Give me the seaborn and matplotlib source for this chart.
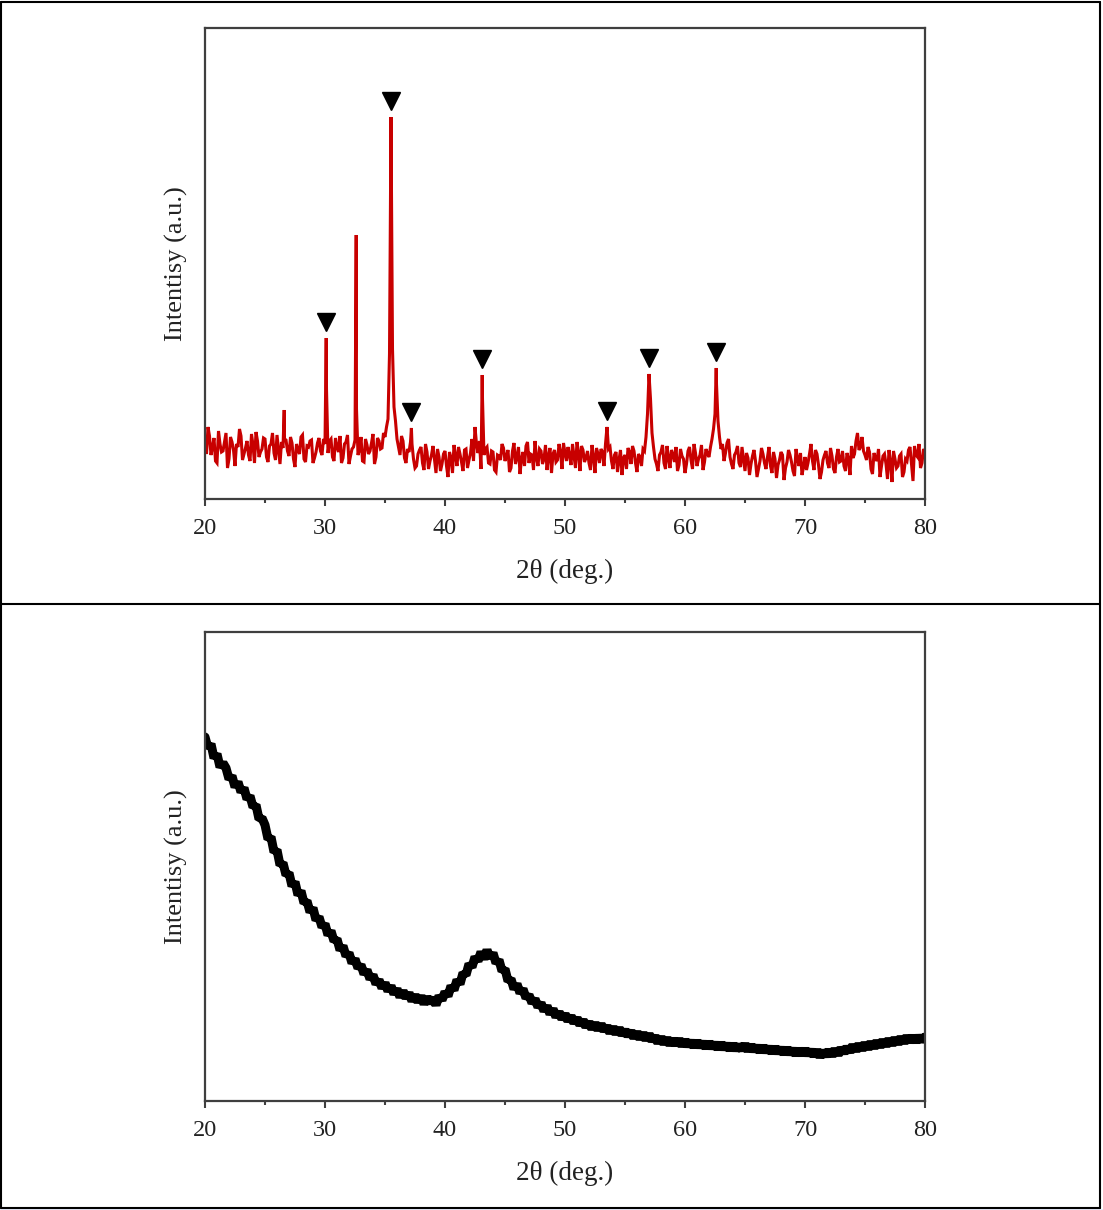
import numpy as np
import pandas as pd
import matplotlib
matplotlib.use("Agg")
import matplotlib.pyplot as plt
import matplotlib.transforms as mtransforms
from matplotlib.lines import Line2D
from matplotlib.patches import Rectangle
import seaborn as sns

# ---------------- data ----------------
# top pattern: background trace at 20.00, 20.25, ... 80.00
two_theta_top = np.arange(20, 80.001, 0.25)
background_top = [
    58, 72, 44, 61, 36, 55, 48, 66, 40, 57, 33, 52, 63, 45, 58, 38, 54, 67, 42, 50,   # 20.00-24.75
    60, 37, 55, 46, 64, 35, 51, 59, 43, 56, 32, 49, 62, 40, 53, 58, 36, 47, 61, 44,   # 25.00-29.75
    55, 46, 60, 38, 52, 63, 41, 57, 35, 50, 59, 44, 62, 37, 54, 48, 65, 42, 58, 51,   # 30.00-34.75
    62, 80, 110, 92, 60, 44, 58, 36, 47, 55, 31, 45, 52, 29, 47, 38, 53, 26, 42, 35,  # 35.00-39.75
    48, 22, 41, 54, 33, 45, 28, 50, 39, 60, 72, 46, 30, 44, 52, 35, 47, 27, 43, 55,   # 40.00-44.75
    38, 49, 31, 56, 42, 25, 47, 53, 36, 44, 58, 33, 48, 40, 29, 51, 45, 37, 55, 30,   # 45.00-49.75
    46, 52, 34, 43, 57, 28, 49, 41, 36, 54, 26, 45, 50, 33, 58, 52, 30, 47, 39, 24,   # 50.00-54.75
    44, 51, 35, 48, 27, 42, 50, 62, 80, 66, 40, 28, 47, 36, 53, 31, 45, 52, 34, 43,   # 55.00-59.75
    26, 48, 39, 55, 33, 44, 29, 50, 42, 60, 85, 78, 50, 38, 56, 42, 30, 47, 36, 52,   # 60.00-64.75
    28, 41, 35, 49, 22, 38, 45, 30, 52, 26, 40, 34, 47, 19, 37, 44, 28, 50, 33, 24,   # 65.00-69.75
    42, 36, 55, 29, 45, 20, 39, 48, 31, 43, 26, 50, 38, 33, 46, 24, 41, 58, 49, 62,   # 70.00-74.75
    44, 52, 30, 46, 38, 22, 43, 35, 49, 17, 40, 33, 45, 27, 38, 52, 18, 44, 55, 36,   # 75.00-79.75
    47,                                                                               # 80.00
]
# top pattern: in-between scan points at 20.125, 20.375, ... 79.875
two_theta_top_mid = np.arange(20.125, 80, 0.25)
background_top_mid = [
    45, 63, 52, 38, 68, 47, 57, 31, 62, 49, 55, 70, 39, 51, 44, 65, 36, 58, 47, 61,   # 20.125-24.875
    42, 53, 66, 39, 50, 57, 60, 48, 62, 40, 55, 45, 64, 37, 52, 59, 41, 56, 48, 60,   # 25.125-29.875
    110, 58, 42, 61, 47, 36, 55, 64, 43, 52, 90, 49, 38, 60, 45, 56, 35, 61, 50, 66,  # 30.125-34.875
    72, 145, 150, 78, 52, 63, 41, 50, 57, 40, 33, 49, 36, 55, 30, 44, 39, 50, 28, 45, # 35.125-39.875
    33, 47, 26, 43, 52, 37, 49, 31, 46, 38, 55, 58, 100, 50, 36, 48, 29, 44, 39, 51,  # 40.125-44.875
    43, 27, 48, 35, 52, 40, 33, 57, 45, 29, 41, 50, 35, 54, 43, 26, 49, 39, 47, 56,   # 45.125-49.875
    38, 44, 55, 31, 46, 53, 37, 48, 29, 42, 51, 36, 47, 55, 50, 38, 44, 27, 49, 41,   # 50.125-54.875
    30, 47, 53, 36, 45, 33, 48, 85, 100, 52, 35, 44, 54, 30, 41, 49, 37, 28, 50, 40,  # 55.125-59.875
    35, 52, 30, 46, 40, 54, 37, 45, 52, 70, 115, 62, 55, 46, 60, 35, 44, 53, 32, 40,  # 60.125-64.875
    46, 24, 43, 38, 30, 51, 36, 42, 33, 47, 21, 39, 44, 31, 49, 37, 23, 41, 46, 32,   # 65.125-69.875
    29, 45, 38, 49, 34, 27, 44, 36, 51, 30, 42, 37, 48, 28, 40, 53, 45, 66, 52, 48,   # 70.125-74.875
    39, 47, 25, 41, 50, 33, 45, 20, 37, 48, 31, 43, 22, 40, 49, 35, 53, 42, 31, 50,   # 75.125-79.875
]
peak_pos = [26.6, 30.1, 32.6, 35.5, 37.2, 43.1, 53.5, 57.0, 62.6]
peak_height = [89, 161, 264, 382, 71, 124, 72, 125, 131]
peak_marked = [False, True, False, True, True, True, True, True, True]

# bottom pattern: intensity at 20.00, 20.25, ... 80.00
two_theta_bottom = np.arange(20, 80.001, 0.25)
intensity_bottom = [
    364, 353, 357, 343, 347, 334, 338, 333, 322, 325, 314, 319, 309, 313, 302, 305, 294, 296, 282, 283,  # 20.00-24.75
    276, 262, 264, 249, 251, 236, 238, 226, 228, 215, 219, 206, 210, 198, 200, 189, 193, 181, 184, 174,  # 25.00-29.75
    177, 166, 170, 160, 162, 151, 155, 145, 148, 138, 142, 133, 136, 127, 131, 122, 126, 117, 121, 113,  # 30.00-34.75
    118, 110, 115, 107, 112, 104, 110, 103, 108, 100, 106, 99, 105, 97, 104, 98, 103, 96, 105, 101,     # 35.00-39.75
    109, 105, 115, 111, 121, 117, 128, 126, 137, 134, 144, 140, 149, 142, 151, 143, 148, 138, 141, 130,  # 40.00-44.75
    132, 120, 122, 112, 117, 108, 112, 103, 106, 98, 102, 94, 98, 90, 95, 87, 92, 84, 89, 82,           # 45.00-49.75
    87, 80, 85, 78, 83, 76, 81, 74, 79, 72, 78, 71, 77, 70, 75, 68, 74, 67, 73, 66,                     # 50.00-54.75
    71, 65, 70, 63, 69, 62, 68, 61, 67, 60, 65, 58, 64, 57, 63, 56, 62, 56, 62, 55,                     # 55.00-59.75
    61, 55, 60, 54, 60, 54, 59, 53, 59, 53, 58, 52, 58, 52, 57, 51, 57, 51, 56, 51,                     # 60.00-64.75
    57, 50, 56, 50, 55, 49, 55, 49, 54, 48, 54, 48, 53, 47, 53, 47, 52, 46, 52, 46,                     # 65.00-69.75
    52, 46, 51, 45, 51, 44, 50, 45, 51, 45, 52, 46, 53, 48, 54, 49, 56, 50, 57, 51,                     # 70.00-74.75
    58, 52, 59, 53, 60, 54, 61, 55, 62, 56, 63, 57, 64, 58, 65, 59, 65, 59, 65, 60,                     # 75.00-79.75
    64,                                                                                                 # 80.00
]

x_major_ticks = [20, 30, 40, 50, 60, 70, 80]
x_minor_ticks = [25, 35, 45, 55, 65, 75]
x_label = "2θ (deg.)"
y_label = "Intentisy (a.u.)"

# ---------------- style ----------------
sns.set_style("ticks")
plt.rcParams["font.family"] = ["Liberation Serif", "DejaVu Serif"]

W, H = 1103, 1210
fig = plt.figure(figsize=(W / 100, H / 100), dpi=100)
fig.patch.set_facecolor("white")

spine_col = "#3f3f3f"
red = "#c80000"


def frac_ax(left, top, right, bottom):
    return fig.add_axes([left / W, 1 - bottom / H, (right - left) / W, (bottom - top) / H])


ax1 = frac_ax(205, 28, 925, 499)
ax2 = frac_ax(205, 632, 925, 1101)

# top trace: all scan points merged with the peaks (peak replaces a coinciding scan point)
df_top = pd.concat([
    pd.DataFrame({"x": two_theta_top, "y": background_top}),
    pd.DataFrame({"x": two_theta_top_mid, "y": background_top_mid}),
    pd.DataFrame({"x": peak_pos, "y": peak_height}),
])
df_top["x"] = df_top["x"].round(3)
df_top = df_top.groupby("x", as_index=False)["y"].max().sort_values("x")

sns.lineplot(data=df_top, x="x", y="y", ax=ax1, color=red, lw=2.2,
             estimator=None, sort=True, legend=False)
for ln in ax1.lines:
    ln.set_solid_joinstyle("miter")

mk = pd.DataFrame({"x": peak_pos, "y": peak_height, "m": peak_marked})
mk = mk[mk["m"]]
off = mtransforms.offset_copy(ax1.transData, fig=fig, x=0, y=11.5, units="points")
ax1.plot(mk["x"], mk["y"], ls="none", marker="v", ms=13, color="black",
         transform=off, clip_on=False, zorder=5)

df_bot = pd.DataFrame({"x": two_theta_bottom, "y": intensity_bottom})
sns.lineplot(data=df_bot, x="x", y="y", ax=ax2, color="black", lw=6.5,
             estimator=None, sort=True, legend=False)
for ln in ax2.lines:
    ln.set_solid_joinstyle("bevel")

for ax, ytop in ((ax1, 471), (ax2, 469)):
    ax.set_xlim(20, 80)
    ax.set_ylim(0, ytop)
    ax.set_xticks(x_major_ticks)
    ax.set_xticks(x_minor_ticks, minor=True)
    ax.tick_params(axis="x", which="major", direction="out", length=5, width=1.5,
                   color=spine_col, labelsize=17.5, labelcolor="#222222", pad=9,
                   top=False, bottom=True)
    ax.tick_params(axis="x", which="minor", direction="out", length=3, width=1.5,
                   color=spine_col, top=False, bottom=True)
    ax.tick_params(axis="y", which="both", left=False, right=False, labelleft=False)
    for s in ax.spines.values():
        s.set_visible(True)
        s.set_color(spine_col)
        s.set_linewidth(1.6)
        s.set_zorder(6)
    ax.set_xlabel(x_label, fontsize=19.5, color="#222222", labelpad=14)
    ax.set_ylabel(y_label, fontsize=19, color="#222222", labelpad=12)
    ax.set_facecolor("white")

# outer table-like frame
lw = 1.5
def hline(y, x0=1, x1=1100):
    fig.add_artist(Line2D([x0 / W, x1 / W], [1 - y / H, 1 - y / H], color="black", lw=lw))
def vline(x, y0=2, y1=1208):
    fig.add_artist(Line2D([x / W, x / W], [1 - y0 / H, 1 - y1 / H], color="black", lw=lw))

hline(2)
hline(604)
hline(1208)
vline(1)
vline(1100)
fig.add_artist(Rectangle((0, 0), 1, 1.5 / H, transform=fig.transFigure,
                         facecolor="#e6e9f7", edgecolor="none"))

fig.savefig("out.png", dpi=100, facecolor="white")
